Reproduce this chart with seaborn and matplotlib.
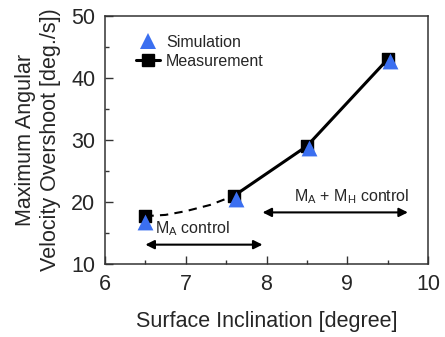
import matplotlib
matplotlib.use("Agg")
import matplotlib.pyplot as plt
from matplotlib.lines import Line2D
from matplotlib.ticker import MultipleLocator
import seaborn as sns

# Values
meas_x = [6.5, 7.6, 8.5, 9.5]
meas_y = [17.7, 21.0, 29.0, 43.0]
sim_x = [6.5, 7.62, 8.53, 9.53]
sim_y = [16.7, 20.5, 28.7, 42.7]
dash_x = [6.5, 6.75, 7.0, 7.3, 7.6]
dash_y = [17.7, 17.9, 18.5, 19.5, 21.0]

sns.set_theme(style="ticks")
plt.rcParams["font.family"] = ["Liberation Sans", "DejaVu Sans"]

fig = plt.figure(figsize=(4.45, 3.37), dpi=100)
ax = fig.add_axes([0.236, 0.217, 0.726, 0.736])

blue = "#3b6ff0"

sns.lineplot(x=dash_x, y=dash_y, ax=ax, color="black", lw=1.5,
             linestyle=(0, (4, 3)), estimator=None, sort=False)
sns.lineplot(x=meas_x[1:], y=meas_y[1:], ax=ax, color="black", lw=2.2,
             estimator=None, sort=False)
ax.scatter(meas_x, meas_y, marker="s", s=70, color="black", zorder=3)
ax.scatter(sim_x, sim_y, marker="^", s=130, color=blue, zorder=4,
           linewidths=0)

# control regions
arrow = dict(arrowstyle="<|-|>", color="black", lw=1.5,
             mutation_scale=13, shrinkA=0, shrinkB=0)
ax.annotate("", xy=(6.5, 13.1), xytext=(7.95, 13.1), arrowprops=arrow)
ax.annotate("", xy=(7.95, 18.3), xytext=(9.75, 18.3), arrowprops=arrow)
ax.text(6.62, 15.6, r"M$_\mathregular{A}$ control", fontsize=11.5,
        va="center", ha="left")
ax.text(9.77, 20.9, r"M$_\mathregular{A}$ + M$_\mathregular{H}$ control",
        fontsize=11.5, va="center", ha="right")

ax.set_xlim(6, 10)
ax.set_ylim(10, 50)
ax.xaxis.set_major_locator(MultipleLocator(1))
ax.xaxis.set_minor_locator(MultipleLocator(0.5))
ax.yaxis.set_major_locator(MultipleLocator(10))
ax.yaxis.set_minor_locator(MultipleLocator(5))
ax.tick_params(which="both", direction="in", labelsize=15.5, width=1,
               color="#333333")
ax.tick_params(which="major", length=6, pad=7)
ax.tick_params(which="minor", length=3)
for s in ax.spines.values():
    s.set_color("#333333")
    s.set_linewidth(1.1)

ax.set_xlabel("Surface Inclination [degree]", fontsize=15.5, labelpad=12)
ax.set_ylabel("Maximum Angular\nVelocity Overshoot [deg./s])", fontsize=15.5,
              linespacing=1.25, labelpad=7)

handles = [
    Line2D([], [], marker="^", color=blue, linestyle="none", markersize=11,
           markeredgewidth=0),
    Line2D([], [], marker="s", color="black", lw=2.2, markersize=8),
]
ax.legend(handles, ["Simulation", "Measurement"], loc="upper left",
          bbox_to_anchor=(0.075, 0.95), frameon=False, fontsize=11.5,
          handlelength=1.5, handletextpad=0.4, labelspacing=0.25,
          borderaxespad=0)

fig.savefig("out.png", dpi=100, facecolor="white")
